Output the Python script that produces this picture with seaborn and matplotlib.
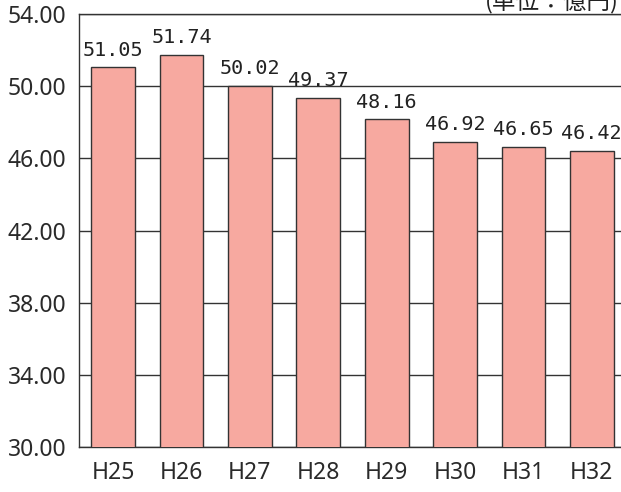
import matplotlib
matplotlib.use("Agg")
import matplotlib.pyplot as plt
import seaborn as sns
import pandas as pd

categories = ["H25", "H26", "H27", "H28", "H29", "H30", "H31", "H32"]
values = [51.05, 51.74, 50.02, 49.37, 48.16, 46.92, 46.65, 46.42]
yticks = [30, 34, 38, 42, 46, 50, 54]
unit_label = "(単位：億円)"

sns.set_style("white")
plt.rcParams['font.family'] = ['Noto Sans', 'Noto Sans CJK JP', 'DejaVu Sans']

df = pd.DataFrame({"cat": categories, "val": values})

fig = plt.figure(figsize=(6.21, 4.92), dpi=100)
ax = fig.add_axes([79/621, 45/492, 547/621, 433/492])

sns.barplot(data=df, x="cat", y="val", color="#F7A9A0", saturation=1,
            width=0.64, edgecolor="#333333", linewidth=1.0, ax=ax, zorder=3)

ax.set_ylim(30, 54)
ax.set_yticks(yticks)
ax.set_yticklabels([f"{t:.2f}" for t in yticks])
ax.set_xlim(-0.5, 7.5)
ax.yaxis.grid(True, color="#333333", linewidth=1.0, zorder=0)
ax.set_axisbelow(True)
ax.set_xlabel("")
ax.set_ylabel("")
ax.tick_params(axis="y", labelsize=16.5, colors="#2a2a2a", length=0, pad=9)
ax.tick_params(axis="x", labelsize=16.5, colors="#2a2a2a", length=0, pad=10)
for s in ["left", "top", "bottom"]:
    ax.spines[s].set_color("#333333")
    ax.spines[s].set_linewidth(1.0)
ax.spines["right"].set_visible(False)

for i, v in enumerate(values):
    ax.annotate(f"{v:.2f}", (i, v), xytext=(0, 5.5), textcoords="offset points",
                ha="center", va="bottom", fontsize=14.5,
                family=["DejaVu Sans Mono"], color="#222222")

fig.text(619/621, 1 - 2/492, unit_label, ha="right", va="center",
         fontsize=17, family=["Noto Sans CJK JP", "DejaVu Sans"], color="#222222")

fig.savefig("out.png", dpi=100)
